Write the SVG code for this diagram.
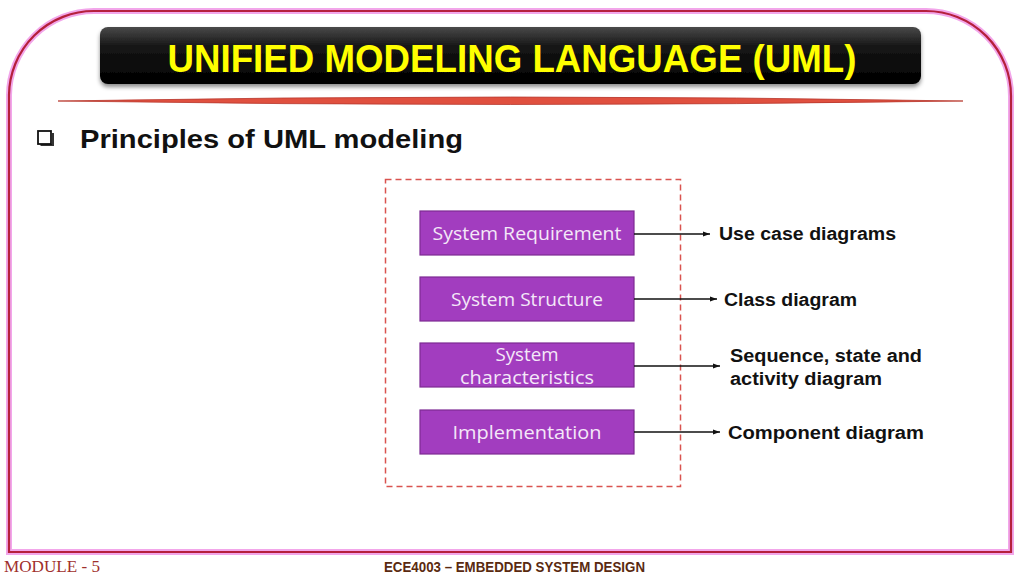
<svg xmlns="http://www.w3.org/2000/svg" width="1024" height="576" viewBox="0 0 1024 576">
<style>
.node rect{fill:#a23dbf;stroke:#7d2a93;stroke-width:1.2}
.node text{fill:#f4e8f8;font-family:"Open Sans","DejaVu Sans",sans-serif;font-size:18px;text-anchor:middle}
.lbl{fill:#111;font-family:"Liberation Sans",Arial,sans-serif;font-weight:bold;font-size:18px}
.conn line{stroke:#111;stroke-width:1.3;marker-end:url(#ah)}
</style>
<defs>
<marker id="ah" markerWidth="8" markerHeight="8" refX="7" refY="4" orient="auto" markerUnits="userSpaceOnUse">
<path d="M0,1.5 L7,4 L0,6.5 Z" fill="#111"/>
</marker>
<linearGradient id="tb" x1="0" y1="0" x2="0" y2="1">
<stop offset="0" stop-color="#4a4a4a"/>
<stop offset="0.35" stop-color="#151515"/>
<stop offset="1" stop-color="#000"/>
</linearGradient>
<filter id="sh" x="-5%" y="-20%" width="110%" height="150%">
<feDropShadow dx="0" dy="3" stdDeviation="2" flood-color="#000" flood-opacity="0.45"/>
</filter>
</defs>
<rect width="1024" height="576" fill="#fff"/>
<!-- frame -->
<path d="M9,552 L9,95 A85,85 0 0 1 94,11 L926,11 A85,85 0 0 1 1011,96 L1011,552 Z" fill="none" stroke="#f2a6ea" stroke-width="6"/>
<path d="M9,552 L9,95 A85,85 0 0 1 94,11 L926,11 A85,85 0 0 1 1011,96 L1011,552 Z" fill="none" stroke="#b5203c" stroke-width="2.2"/>
<!-- title bar -->
<g id="title">
<rect x="100" y="27" width="821" height="57" rx="8" fill="url(#tb)" filter="url(#sh)"/>
<text x="512" y="72" fill="#ffff00" font-family="'Liberation Sans',Arial,sans-serif" font-weight="bold" font-size="39" text-anchor="middle" textLength="689" lengthAdjust="spacingAndGlyphs">UNIFIED MODELING LANGUAGE (UML)</text>
</g>
<path d="M58,101 Q510,93 963,101 Q510,108 58,101 Z" fill="#e0503f" stroke="#b83a30" stroke-width="0.8"/>
<!-- bullet -->
<path d="M40.5,145 L53,145 L53,133" fill="none" stroke="#333" stroke-width="2"/>
<rect x="38" y="131" width="13" height="13" fill="#fff" stroke="#111" stroke-width="1.8"/>
<text x="80" y="148" fill="#111" font-family="'Liberation Sans',Arial,sans-serif" font-weight="bold" font-size="25" textLength="383" lengthAdjust="spacingAndGlyphs">Principles of UML modeling</text>
<!-- dashed container -->
<rect x="385.5" y="179.5" width="295" height="307" fill="none" stroke="#d9534f" stroke-width="1.5" stroke-dasharray="6,4"/>
<g id="n1" class="node"><rect x="420" y="211" width="214" height="44"/><text x="527" y="240" textLength="189" lengthAdjust="spacingAndGlyphs">System Requirement</text></g>
<g id="n2" class="node"><rect x="420" y="277" width="214" height="44"/><text x="527" y="306" textLength="152" lengthAdjust="spacingAndGlyphs">System Structure</text></g>
<g id="n3" class="node"><rect x="420" y="343" width="214" height="44"/><text x="527" y="361" textLength="63" lengthAdjust="spacingAndGlyphs">System</text><text x="527" y="384" textLength="134" lengthAdjust="spacingAndGlyphs">characteristics</text></g>
<g id="n4" class="node"><rect x="420" y="410" width="214" height="44"/><text x="527" y="439" textLength="149" lengthAdjust="spacingAndGlyphs">Implementation</text></g>
<g id="connectors" class="conn">
<line x1="634" y1="234" x2="710" y2="234"/>
<line x1="634" y1="299" x2="717" y2="299"/>
<line x1="634" y1="366" x2="720" y2="366"/>
<line x1="634" y1="432" x2="720" y2="432"/>
</g>
<g id="l1"><text class="lbl" x="719" y="240" textLength="177" lengthAdjust="spacingAndGlyphs">Use case diagrams</text></g>
<g id="l2"><text class="lbl" x="724" y="306" textLength="133" lengthAdjust="spacingAndGlyphs">Class diagram</text></g>
<g id="l3"><text class="lbl" x="730" y="362" textLength="192" lengthAdjust="spacingAndGlyphs">Sequence, state and</text><text class="lbl" x="730" y="385" textLength="152" lengthAdjust="spacingAndGlyphs">activity diagram</text></g>
<g id="l4"><text class="lbl" x="728" y="439" textLength="196" lengthAdjust="spacingAndGlyphs">Component diagram</text></g>
<!-- footer -->
<text x="4" y="572" fill="#a0302c" font-family="'Liberation Serif',serif" font-size="17" textLength="96" lengthAdjust="spacingAndGlyphs">MODULE - 5</text>
<text x="384" y="572" fill="#5a2a10" font-family="'Liberation Sans',Arial,sans-serif" font-weight="bold" font-size="15" textLength="261" lengthAdjust="spacingAndGlyphs">ECE4003 – EMBEDDED SYSTEM DESIGN</text>
</svg>
